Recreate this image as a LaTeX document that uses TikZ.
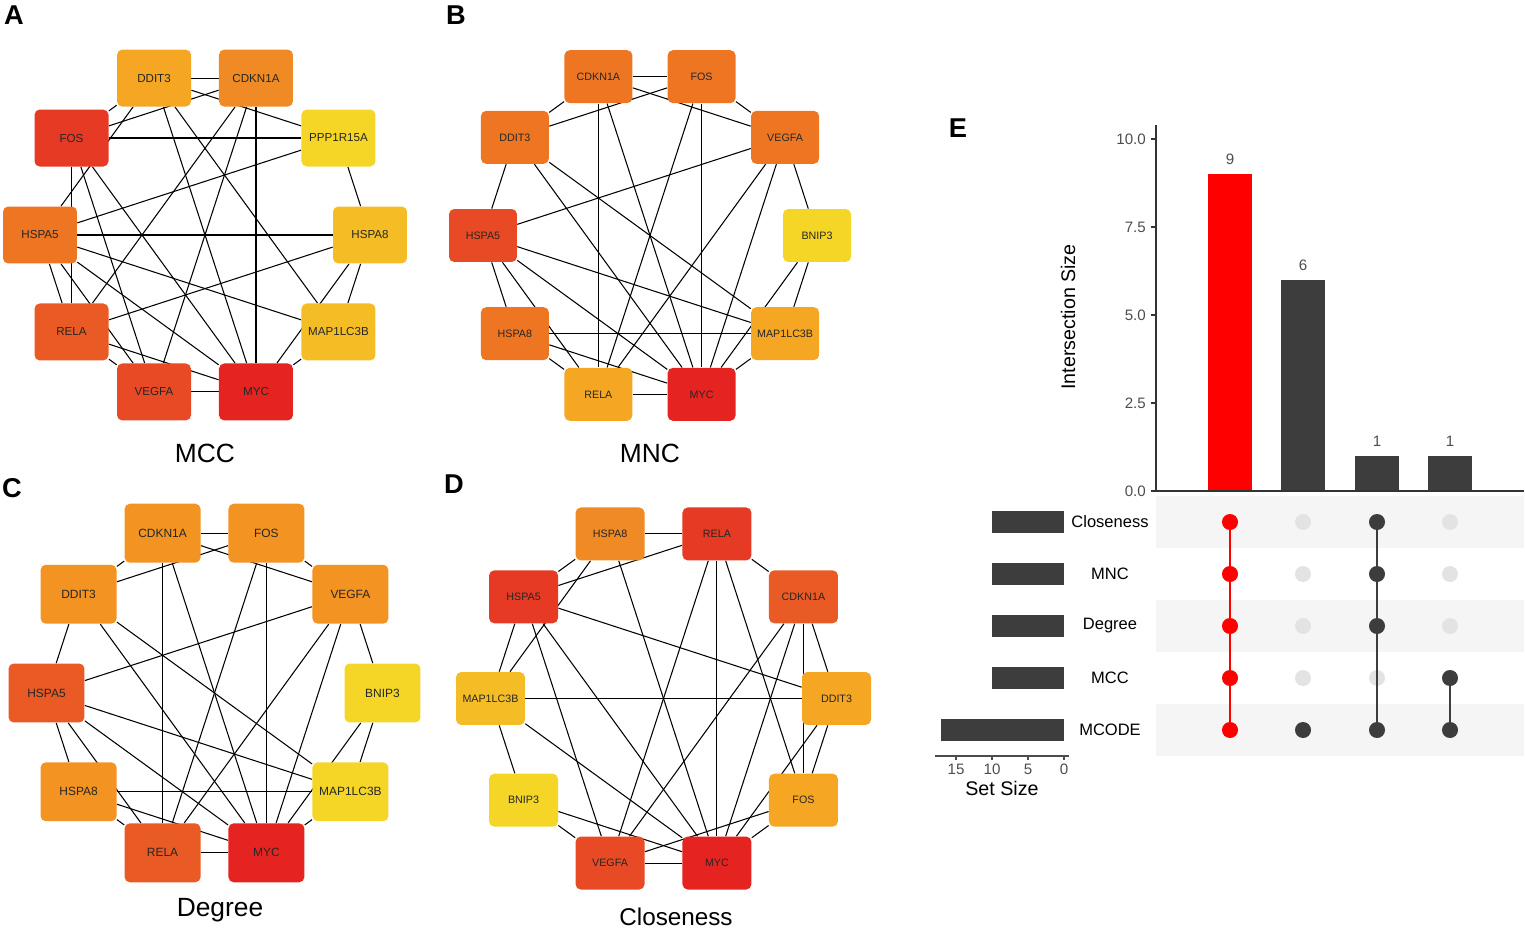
\documentclass[tikz,border=0pt]{standalone}
\usepackage{fontspec}
\setmainfont{Liberation Sans}
\usetikzlibrary{backgrounds}

\definecolor{cRed}{HTML}{E52421}
\definecolor{cScarlet}{HTML}{E63A24}
\definecolor{cVerm}{HTML}{E84A25}
\definecolor{cOrRed}{HTML}{EA5A24}
\definecolor{cDarkOr}{HTML}{EE7623}
\definecolor{cOr}{HTML}{F08A24}
\definecolor{cOrange}{HTML}{F39322}
\definecolor{cAmber}{HTML}{F5A623}
\definecolor{cGold}{HTML}{F5BD25}
\definecolor{cYel}{HTML}{F5D627}
\definecolor{barGray}{HTML}{3D3D3D}
\definecolor{dotOff}{HTML}{E3E3E3}
\definecolor{bandGray}{HTML}{F5F5F5}
\definecolor{tickGray}{HTML}{4D4D4D}

\begin{document}
\begin{tikzpicture}[x=0.02cm,y=0.02cm,
    gene/.style={rounded corners=3pt,inner sep=0pt,text=black!85},
    geneA/.style={gene,minimum width=1.48cm,minimum height=1.14cm,font=\fontsize{6.6}{8}\selectfont},
    geneB/.style={gene,minimum width=1.36cm,minimum height=1.06cm,font=\fontsize{6.1}{8}\selectfont},
    geneC/.style={gene,minimum width=1.52cm,minimum height=1.18cm,font=\fontsize{6.8}{8}\selectfont},
    geneD/.style={gene,minimum width=1.38cm,minimum height=1.06cm,font=\fontsize{6.1}{8}\selectfont},
    edge/.style={line width=0.6pt,black},
    title/.style={font=\fontsize{15}{18}\selectfont},
    letter/.style={font=\bfseries\fontsize{15.5}{18}\selectfont},
    tick/.style={font=\fontsize{8.6}{10}\selectfont,text=tickGray},
    setname/.style={font=\fontsize{9.4}{11}\selectfont},
    dot/.style={circle,inner sep=0pt,minimum size=0.32cm},
    link/.style={line width=1.1pt}]
\useasboundingbox (0,0) rectangle (1525,-929);

% panel letters
\node[letter] (labA) at (14,-15) {A};
\node[letter] (labB) at (456,-15) {B};
\node[letter] (labC) at (12,-488) {C};
\node[letter] (labD) at (454,-484) {D};
\node[letter] (labE) at (958,-128) {E};

% A: MCC
\begin{scope}[shift={(205,-235)},every node/.style={geneA}]
  \node[fill=cGold] (aHSPA8) at (0:165) {HSPA8};
  \node[fill=cYel] (aPPP1R15A) at (36:165) {PPP1R15A};
  \node[fill=cOr] (aCDKN1A) at (72:165) {CDKN1A};
  \node[fill=cAmber] (aDDIT3) at (108:165) {DDIT3};
  \node[fill=cScarlet] (aFOS) at (144:165) {FOS};
  \node[fill=cDarkOr] (aHSPA5) at (180:165) {HSPA5};
  \node[fill=cOrRed] (aRELA) at (216:165) {RELA};
  \node[fill=cVerm] (aVEGFA) at (252:165) {VEGFA};
  \node[fill=cRed] (aMYC) at (288:165) {MYC};
  \node[fill=cGold] (aMAP1LC3B) at (324:165) {MAP1LC3B};
\end{scope}
\node[title] (tA) at (205,-453) {MCC};

% B: MNC
\begin{scope}[shift={(650,-235.5)},every node/.style={geneB}]
  \node[fill=cYel] (bBNIP3) at (0:167) {BNIP3};
  \node[fill=cDarkOr] (bVEGFA) at (36:167) {VEGFA};
  \node[fill=cDarkOr] (bFOS) at (72:167) {FOS};
  \node[fill=cDarkOr] (bCDKN1A) at (108:167) {CDKN1A};
  \node[fill=cDarkOr] (bDDIT3) at (144:167) {DDIT3};
  \node[fill=cVerm] (bHSPA5) at (180:167) {HSPA5};
  \node[fill=cDarkOr] (bHSPA8) at (216:167) {HSPA8};
  \node[fill=cAmber] (bRELA) at (252:167) {RELA};
  \node[fill=cRed] (bMYC) at (288:167) {MYC};
  \node[fill=cAmber] (bMAP1LC3B) at (324:167) {MAP1LC3B};
\end{scope}
\node[title] (tB) at (650,-453) {MNC};

% C: Degree
\begin{scope}[shift={(214.5,-693)},every node/.style={geneC}]
  \node[fill=cYel] (cBNIP3) at (0:168) {BNIP3};
  \node[fill=cOrange] (cVEGFA) at (36:168) {VEGFA};
  \node[fill=cOrange] (cFOS) at (72:168) {FOS};
  \node[fill=cOrange] (cCDKN1A) at (108:168) {CDKN1A};
  \node[fill=cOrange] (cDDIT3) at (144:168) {DDIT3};
  \node[fill=cOrRed] (cHSPA5) at (180:168) {HSPA5};
  \node[fill=cOrange] (cHSPA8) at (216:168) {HSPA8};
  \node[fill=cOrRed] (cRELA) at (252:168) {RELA};
  \node[fill=cRed] (cMYC) at (288:168) {MYC};
  \node[fill=cYel] (cMAP1LC3B) at (324:168) {MAP1LC3B};
\end{scope}
\node[title] (tC) at (220,-910) {Degree};

% D: Closeness
\begin{scope}[shift={(663.5,-698.5)},every node/.style={geneD}]
  \node[fill=cAmber] (dDDIT3) at (0:173) {DDIT3};
  \node[fill=cOrRed] (dCDKN1A) at (36:173) {CDKN1A};
  \node[fill=cScarlet] (dRELA) at (72:173) {RELA};
  \node[fill=cOr] (dHSPA8) at (108:173) {HSPA8};
  \node[fill=cScarlet] (dHSPA5) at (144:173) {HSPA5};
  \node[fill=cGold] (dMAP1LC3B) at (180:173) {MAP1LC3B};
  \node[fill=cYel] (dBNIP3) at (216:173) {BNIP3};
  \node[fill=cVerm] (dVEGFA) at (252:173) {VEGFA};
  \node[fill=cRed] (dMYC) at (288:173) {MYC};
  \node[fill=cAmber] (dFOS) at (324:173) {FOS};
\end{scope}
\node[title,font=\fontsize{13.8}{16}\selectfont] (tD) at (676,-917) {Closeness};

\begin{scope}[on background layer]
  % A edges
  \draw[edge] (aDDIT3) -- (aCDKN1A);
  \draw[edge] (aDDIT3) -- (aPPP1R15A);
  \draw[edge] (aDDIT3) -- (aMYC);
  \draw[edge] (aDDIT3) -- (aMAP1LC3B);
  \draw[edge] (aDDIT3) -- (aHSPA5);
  \draw[edge] (aDDIT3) -- (aFOS);
  \draw[edge] (aFOS) -- (aCDKN1A);
  \draw[edge] (aCDKN1A) -- (aMYC);
  \draw[edge] (aCDKN1A) -- (aRELA);
  \draw[edge] (aCDKN1A) -- (aVEGFA);
  \draw[edge] (aFOS) -- (aPPP1R15A);
  \draw[edge] (aFOS) -- (aRELA);
  \draw[edge] (aFOS) -- (aVEGFA);
  \draw[edge] (aFOS) -- (aMYC);
  \draw[edge] (aPPP1R15A) -- (aHSPA5);
  \draw[edge] (aPPP1R15A) -- (aHSPA8);
  \draw[edge] (aHSPA5) -- (aHSPA8);
  \draw[edge] (aHSPA8) -- (aRELA);
  \draw[edge] (aHSPA8) -- (aMAP1LC3B);
  \draw[edge] (aHSPA8) -- (aMYC);
  \draw[edge] (aHSPA5) -- (aMAP1LC3B);
  \draw[edge] (aHSPA5) -- (aMYC);
  \draw[edge] (aHSPA5) -- (aRELA);
  \draw[edge] (aHSPA5) -- (aVEGFA);
  \draw[edge] (aRELA) -- (aMYC);
  \draw[edge] (aRELA) -- (aVEGFA);
  \draw[edge] (aVEGFA) -- (aMYC);
  \draw[edge] (aMAP1LC3B) -- (aMYC);
  % B and C edges (same network)
  \foreach \p in {b,c} {
    \draw[edge] (\p CDKN1A) -- (\p FOS);
    \draw[edge] (\p CDKN1A) -- (\p VEGFA);
    \draw[edge] (\p FOS) -- (\p DDIT3);
    \draw[edge] (\p CDKN1A) -- (\p DDIT3);
    \draw[edge] (\p FOS) -- (\p VEGFA);
    \draw[edge] (\p CDKN1A) -- (\p RELA);
    \draw[edge] (\p FOS) -- (\p MYC);
    \draw[edge] (\p CDKN1A) -- (\p MYC);
    \draw[edge] (\p FOS) -- (\p RELA);
    \draw[edge] (\p DDIT3) -- (\p HSPA5);
    \draw[edge] (\p DDIT3) -- (\p MYC);
    \draw[edge] (\p DDIT3) -- (\p MAP1LC3B);
    \draw[edge] (\p VEGFA) -- (\p HSPA5);
    \draw[edge] (\p VEGFA) -- (\p RELA);
    \draw[edge] (\p VEGFA) -- (\p MYC);
    \draw[edge] (\p VEGFA) -- (\p BNIP3);
    \draw[edge] (\p BNIP3) -- (\p MYC);
    \draw[edge] (\p BNIP3) -- (\p MAP1LC3B);
    \draw[edge] (\p HSPA5) -- (\p MAP1LC3B);
    \draw[edge] (\p HSPA5) -- (\p MYC);
    \draw[edge] (\p HSPA5) -- (\p HSPA8);
    \draw[edge] (\p HSPA5) -- (\p RELA);
    \draw[edge] (\p HSPA8) -- (\p MAP1LC3B);
    \draw[edge] (\p HSPA8) -- (\p MYC);
    \draw[edge] (\p HSPA8) -- (\p RELA);
    \draw[edge] (\p RELA) -- (\p MYC);
    \draw[edge] (\p MAP1LC3B) -- (\p MYC);
  }
  % D edges
  \draw[edge] (dHSPA8) -- (dRELA);
  \draw[edge] (dRELA) -- (dHSPA5);
  \draw[edge] (dHSPA8) -- (dHSPA5);
  \draw[edge] (dHSPA8) -- (dMAP1LC3B);
  \draw[edge] (dHSPA8) -- (dMYC);
  \draw[edge] (dRELA) -- (dCDKN1A);
  \draw[edge] (dRELA) -- (dMYC);
  \draw[edge] (dRELA) -- (dVEGFA);
  \draw[edge] (dRELA) -- (dFOS);
  \draw[edge] (dHSPA5) -- (dDDIT3);
  \draw[edge] (dHSPA5) -- (dMAP1LC3B);
  \draw[edge] (dHSPA5) -- (dVEGFA);
  \draw[edge] (dHSPA5) -- (dMYC);
  \draw[edge] (dCDKN1A) -- (dVEGFA);
  \draw[edge] (dCDKN1A) -- (dMYC);
  \draw[edge] (dCDKN1A) -- (dFOS);
  \draw[edge] (dCDKN1A) -- (dDDIT3);
  \draw[edge] (dMAP1LC3B) -- (dDDIT3);
  \draw[edge] (dDDIT3) -- (dMYC);
  \draw[edge] (dDDIT3) -- (dFOS);
  \draw[edge] (dMAP1LC3B) -- (dBNIP3);
  \draw[edge] (dMAP1LC3B) -- (dMYC);
  \draw[edge] (dBNIP3) -- (dMYC);
  \draw[edge] (dBNIP3) -- (dVEGFA);
  \draw[edge] (dFOS) -- (dVEGFA);
  \draw[edge] (dFOS) -- (dMYC);
  \draw[edge] (dVEGFA) -- (dMYC);
\end{scope}

% E: upset plot
\fill[bandGray] (1156,-496) rectangle (1524,-548);
\fill[bandGray] (1156,-600) rectangle (1524,-652);
\fill[bandGray] (1156,-704) rectangle (1524,-756);

% intersection bars
\fill[red] (1208,-491) rectangle (1252,-174.2);
\fill[barGray] (1281,-491) rectangle (1325,-279.8);
\fill[barGray] (1355,-491) rectangle (1399,-455.8);
\fill[barGray] (1428,-491) rectangle (1472,-455.8);
\node[tick] (n1) at (1230,-159) {9};
\node[tick] (n2) at (1303,-265) {6};
\node[tick] (n3) at (1377,-441) {1};
\node[tick] (n4) at (1450,-441) {1};

\draw[line width=0.6pt,black!80] (1156,-125) -- (1156,-491) -- (1524,-491);
\foreach \v/\t in {0/0.0,2.5/2.5,5/5.0,7.5/7.5,10/10.0} {
  \draw[line width=0.6pt,black!80] (1151,{-491+35.2*\v}) -- (1156,{-491+35.2*\v});
  \node[tick,anchor=east] (y\t) at (1152,{-491+35.2*\v}) {\t};
}
\node[rotate=90,font=\fontsize{11.2}{13}\selectfont] (ylab) at (1068,-317) {Intersection Size};

% set size bars
\fill[barGray] (992,-511) rectangle (1064,-533);
\fill[barGray] (992,-563) rectangle (1064,-585);
\fill[barGray] (992,-615) rectangle (1064,-637);
\fill[barGray] (992,-667) rectangle (1064,-689);
\fill[barGray] (941,-719) rectangle (1064,-741);
\draw[line width=0.6pt,black!70] (935,-756) -- (1069,-756);
\foreach \v in {0,5,10,15} {
  \draw[line width=0.6pt,black!70] ({1064-7.2*\v},-756) -- ({1064-7.2*\v},-760);
  \node[tick] (s\v) at ({1064-7.2*\v},-769) {\v};
}
\node[font=\fontsize{11.2}{13}\selectfont] (slab) at (1002,-788) {Set Size};

% set names
\foreach \n/\s/\y in {1/Closeness/522,2/MNC/574,3/Degree/626,4/MCC/678,5/MCODE/730}
  \node[setname] (set\n) at (1110,-\y) {\s};

% matrix dots
\foreach \c/\x in {1/1230,2/1303,3/1377,4/1450}
  \foreach \r/\y in {1/522,2/574,3/626,4/678,5/730}
    \node[dot,fill=dotOff] (m\c\r) at (\x,-\y) {};
\foreach \r in {1,...,5} \node[dot,fill=red] (r\r) at (m1\r) {};
\node[dot,fill=barGray] (k25) at (m25) {};
\foreach \r in {1,2,3,5} \node[dot,fill=barGray] (k3\r) at (m3\r) {};
\node[dot,fill=barGray] (k44) at (m44) {};
\node[dot,fill=barGray] (k45) at (m45) {};
\draw[link,red] (r1) -- (r5);
\draw[link,barGray] (k31) -- (k35);
\draw[link,barGray] (k44) -- (k45);
\end{tikzpicture}
\end{document}
